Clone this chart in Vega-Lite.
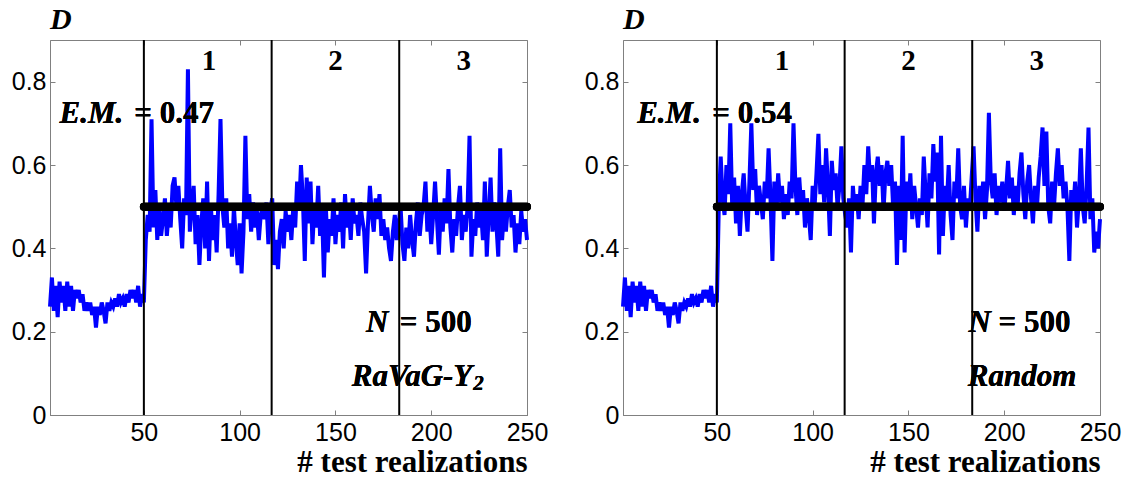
{
"$schema": "https://vega.github.io/schema/vega-lite/v6.json",
"padding": {"left": 10, "top": 4, "right": 5, "bottom": 5},
"spacing": 34,
"background": "white",
"datasets": {
"series": [
{"x":1,"RaVaG":0.26,"Random":0.26},{"x":2,"RaVaG":0.33,"Random":0.33},{"x":3,"RaVaG":0.25,"Random":0.25},{"x":4,"RaVaG":0.31,"Random":0.31},{"x":5,"RaVaG":0.235,"Random":0.235},
{"x":6,"RaVaG":0.32,"Random":0.32},{"x":7,"RaVaG":0.27,"Random":0.27},{"x":8,"RaVaG":0.31,"Random":0.31},{"x":9,"RaVaG":0.25,"Random":0.25},{"x":10,"RaVaG":0.32,"Random":0.32},
{"x":11,"RaVaG":0.26,"Random":0.26},{"x":12,"RaVaG":0.31,"Random":0.31},{"x":13,"RaVaG":0.25,"Random":0.25},{"x":14,"RaVaG":0.30,"Random":0.30},{"x":15,"RaVaG":0.28,"Random":0.28},
{"x":16,"RaVaG":0.30,"Random":0.30},{"x":17,"RaVaG":0.27,"Random":0.27},{"x":18,"RaVaG":0.29,"Random":0.29},{"x":19,"RaVaG":0.25,"Random":0.25},{"x":20,"RaVaG":0.27,"Random":0.27},
{"x":21,"RaVaG":0.25,"Random":0.25},{"x":22,"RaVaG":0.27,"Random":0.27},{"x":23,"RaVaG":0.24,"Random":0.24},{"x":24,"RaVaG":0.26,"Random":0.26},{"x":25,"RaVaG":0.21,"Random":0.21},
{"x":26,"RaVaG":0.26,"Random":0.26},{"x":27,"RaVaG":0.24,"Random":0.24},{"x":28,"RaVaG":0.27,"Random":0.27},{"x":29,"RaVaG":0.25,"Random":0.25},{"x":30,"RaVaG":0.22,"Random":0.22},
{"x":31,"RaVaG":0.27,"Random":0.27},{"x":32,"RaVaG":0.25,"Random":0.25},{"x":33,"RaVaG":0.27,"Random":0.27},{"x":34,"RaVaG":0.26,"Random":0.26},{"x":35,"RaVaG":0.28,"Random":0.28},
{"x":36,"RaVaG":0.26,"Random":0.26},{"x":37,"RaVaG":0.29,"Random":0.29},{"x":38,"RaVaG":0.27,"Random":0.27},{"x":39,"RaVaG":0.28,"Random":0.28},{"x":40,"RaVaG":0.26,"Random":0.26},
{"x":41,"RaVaG":0.29,"Random":0.29},{"x":42,"RaVaG":0.27,"Random":0.27},{"x":43,"RaVaG":0.30,"Random":0.30},{"x":44,"RaVaG":0.28,"Random":0.28},{"x":45,"RaVaG":0.30,"Random":0.30},
{"x":46,"RaVaG":0.27,"Random":0.27},{"x":47,"RaVaG":0.31,"Random":0.31},{"x":48,"RaVaG":0.26,"Random":0.26},{"x":49,"RaVaG":0.29,"Random":0.29},{"x":50,"RaVaG":0.27,"Random":0.27},
{"x":51,"RaVaG":0.42,"Random":0.50},{"x":52,"RaVaG":0.48,"Random":0.62},{"x":53,"RaVaG":0.44,"Random":0.52},{"x":54,"RaVaG":0.71,"Random":0.48},{"x":55,"RaVaG":0.45,"Random":0.60},
{"x":56,"RaVaG":0.54,"Random":0.53},{"x":57,"RaVaG":0.42,"Random":0.70},{"x":58,"RaVaG":0.50,"Random":0.50},{"x":59,"RaVaG":0.43,"Random":0.57},{"x":60,"RaVaG":0.47,"Random":0.46},
{"x":61,"RaVaG":0.52,"Random":0.55},{"x":62,"RaVaG":0.43,"Random":0.43},{"x":63,"RaVaG":0.49,"Random":0.53},{"x":64,"RaVaG":0.45,"Random":0.58},{"x":65,"RaVaG":0.55,"Random":0.50},
{"x":66,"RaVaG":0.57,"Random":0.44},{"x":67,"RaVaG":0.50,"Random":0.56},{"x":68,"RaVaG":0.55,"Random":0.70},{"x":69,"RaVaG":0.47,"Random":0.54},{"x":70,"RaVaG":0.40,"Random":0.59},
{"x":71,"RaVaG":0.52,"Random":0.48},{"x":72,"RaVaG":0.48,"Random":0.55},{"x":73,"RaVaG":0.83,"Random":0.51},{"x":74,"RaVaG":0.44,"Random":0.47},{"x":75,"RaVaG":0.50,"Random":0.56},
{"x":76,"RaVaG":0.55,"Random":0.52},{"x":77,"RaVaG":0.41,"Random":0.64},{"x":78,"RaVaG":0.48,"Random":0.52},{"x":79,"RaVaG":0.36,"Random":0.37},{"x":80,"RaVaG":0.46,"Random":0.56},
{"x":81,"RaVaG":0.52,"Random":0.49},{"x":82,"RaVaG":0.40,"Random":0.58},{"x":83,"RaVaG":0.56,"Random":0.51},{"x":84,"RaVaG":0.37,"Random":0.55},{"x":85,"RaVaG":0.50,"Random":0.47},
{"x":86,"RaVaG":0.42,"Random":0.53},{"x":87,"RaVaG":0.48,"Random":0.48},{"x":88,"RaVaG":0.39,"Random":0.56},{"x":89,"RaVaG":0.53,"Random":0.52},{"x":90,"RaVaG":0.71,"Random":0.70},
{"x":91,"RaVaG":0.50,"Random":0.55},{"x":92,"RaVaG":0.45,"Random":0.48},{"x":93,"RaVaG":0.52,"Random":0.57},{"x":94,"RaVaG":0.40,"Random":0.50},{"x":95,"RaVaG":0.46,"Random":0.54},
{"x":96,"RaVaG":0.38,"Random":0.45},{"x":97,"RaVaG":0.50,"Random":0.52},{"x":98,"RaVaG":0.42,"Random":0.48},{"x":99,"RaVaG":0.36,"Random":0.42},{"x":100,"RaVaG":0.46,"Random":0.55},
{"x":101,"RaVaG":0.34,"Random":0.50},{"x":102,"RaVaG":0.44,"Random":0.58},{"x":103,"RaVaG":0.67,"Random":0.675},{"x":104,"RaVaG":0.47,"Random":0.53},{"x":105,"RaVaG":0.53,"Random":0.60},
{"x":106,"RaVaG":0.44,"Random":0.51},{"x":107,"RaVaG":0.51,"Random":0.64},{"x":108,"RaVaG":0.45,"Random":0.55},{"x":109,"RaVaG":0.49,"Random":0.43},{"x":110,"RaVaG":0.42,"Random":0.61},
{"x":111,"RaVaG":0.48,"Random":0.54},{"x":112,"RaVaG":0.50,"Random":0.58},{"x":113,"RaVaG":0.47,"Random":0.50},{"x":114,"RaVaG":0.51,"Random":0.55},{"x":115,"RaVaG":0.41,"Random":0.645},
{"x":116,"RaVaG":0.49,"Random":0.52},{"x":117,"RaVaG":0.52,"Random":0.48},{"x":118,"RaVaG":0.36,"Random":0.45},{"x":119,"RaVaG":0.42,"Random":0.52},{"x":120,"RaVaG":0.35,"Random":0.39},
{"x":121,"RaVaG":0.44,"Random":0.55},{"x":122,"RaVaG":0.47,"Random":0.49},{"x":123,"RaVaG":0.40,"Random":0.53},{"x":124,"RaVaG":0.49,"Random":0.47},{"x":125,"RaVaG":0.44,"Random":0.55},
{"x":126,"RaVaG":0.48,"Random":0.50},{"x":127,"RaVaG":0.42,"Random":0.60},{"x":128,"RaVaG":0.50,"Random":0.53},{"x":129,"RaVaG":0.45,"Random":0.645},{"x":130,"RaVaG":0.56,"Random":0.56},
{"x":131,"RaVaG":0.49,"Random":0.60},{"x":132,"RaVaG":0.60,"Random":0.46},{"x":133,"RaVaG":0.52,"Random":0.58},{"x":134,"RaVaG":0.37,"Random":0.62},{"x":135,"RaVaG":0.57,"Random":0.55},
{"x":136,"RaVaG":0.46,"Random":0.60},{"x":137,"RaVaG":0.56,"Random":0.49},{"x":138,"RaVaG":0.41,"Random":0.58},{"x":139,"RaVaG":0.50,"Random":0.61},{"x":140,"RaVaG":0.45,"Random":0.55},
{"x":141,"RaVaG":0.55,"Random":0.60},{"x":142,"RaVaG":0.43,"Random":0.50},{"x":143,"RaVaG":0.49,"Random":0.56},{"x":144,"RaVaG":0.33,"Random":0.36},{"x":145,"RaVaG":0.50,"Random":0.55},
{"x":146,"RaVaG":0.39,"Random":0.42},{"x":147,"RaVaG":0.47,"Random":0.67},{"x":148,"RaVaG":0.43,"Random":0.39},{"x":149,"RaVaG":0.52,"Random":0.56},{"x":150,"RaVaG":0.41,"Random":0.50},
{"x":151,"RaVaG":0.48,"Random":0.58},{"x":152,"RaVaG":0.44,"Random":0.47},{"x":153,"RaVaG":0.51,"Random":0.55},{"x":154,"RaVaG":0.40,"Random":0.50},{"x":155,"RaVaG":0.53,"Random":0.45},
{"x":156,"RaVaG":0.45,"Random":0.52},{"x":157,"RaVaG":0.50,"Random":0.48},{"x":158,"RaVaG":0.42,"Random":0.62},{"x":159,"RaVaG":0.52,"Random":0.53},{"x":160,"RaVaG":0.46,"Random":0.45},
{"x":161,"RaVaG":0.48,"Random":0.58},{"x":162,"RaVaG":0.43,"Random":0.52},{"x":163,"RaVaG":0.51,"Random":0.65},{"x":164,"RaVaG":0.47,"Random":0.56},{"x":165,"RaVaG":0.44,"Random":0.63},
{"x":166,"RaVaG":0.34,"Random":0.385},{"x":167,"RaVaG":0.46,"Random":0.67},{"x":168,"RaVaG":0.55,"Random":0.43},{"x":169,"RaVaG":0.48,"Random":0.55},{"x":170,"RaVaG":0.44,"Random":0.50},
{"x":171,"RaVaG":0.52,"Random":0.60},{"x":172,"RaVaG":0.47,"Random":0.48},{"x":173,"RaVaG":0.53,"Random":0.42},{"x":174,"RaVaG":0.43,"Random":0.56},{"x":175,"RaVaG":0.47,"Random":0.52},
{"x":176,"RaVaG":0.42,"Random":0.64},{"x":177,"RaVaG":0.45,"Random":0.50},{"x":178,"RaVaG":0.40,"Random":0.47},{"x":179,"RaVaG":0.37,"Random":0.55},{"x":180,"RaVaG":0.44,"Random":0.45},
{"x":181,"RaVaG":0.48,"Random":0.52},{"x":182,"RaVaG":0.42,"Random":0.49},{"x":183,"RaVaG":0.46,"Random":0.57},{"x":184,"RaVaG":0.50,"Random":0.645},{"x":185,"RaVaG":0.41,"Random":0.52},
{"x":186,"RaVaG":0.37,"Random":0.44},{"x":187,"RaVaG":0.45,"Random":0.55},{"x":188,"RaVaG":0.40,"Random":0.50},{"x":189,"RaVaG":0.48,"Random":0.56},{"x":190,"RaVaG":0.42,"Random":0.47},
{"x":191,"RaVaG":0.38,"Random":0.54},{"x":192,"RaVaG":0.46,"Random":0.725},{"x":193,"RaVaG":0.51,"Random":0.56},{"x":194,"RaVaG":0.43,"Random":0.52},{"x":195,"RaVaG":0.48,"Random":0.58},
{"x":196,"RaVaG":0.50,"Random":0.48},{"x":197,"RaVaG":0.56,"Random":0.55},{"x":198,"RaVaG":0.44,"Random":0.51},{"x":199,"RaVaG":0.49,"Random":0.56},{"x":200,"RaVaG":0.41,"Random":0.49},
{"x":201,"RaVaG":0.48,"Random":0.54},{"x":202,"RaVaG":0.56,"Random":0.61},{"x":203,"RaVaG":0.47,"Random":0.52},{"x":204,"RaVaG":0.385,"Random":0.57},{"x":205,"RaVaG":0.50,"Random":0.48},
{"x":206,"RaVaG":0.44,"Random":0.55},{"x":207,"RaVaG":0.52,"Random":0.50},{"x":208,"RaVaG":0.46,"Random":0.58},{"x":209,"RaVaG":0.59,"Random":0.63},{"x":210,"RaVaG":0.45,"Random":0.53},
{"x":211,"RaVaG":0.39,"Random":0.47},{"x":212,"RaVaG":0.47,"Random":0.56},{"x":213,"RaVaG":0.43,"Random":0.60},{"x":214,"RaVaG":0.50,"Random":0.52},{"x":215,"RaVaG":0.55,"Random":0.46},
{"x":216,"RaVaG":0.42,"Random":0.55},{"x":217,"RaVaG":0.48,"Random":0.49},{"x":218,"RaVaG":0.44,"Random":0.57},{"x":219,"RaVaG":0.50,"Random":0.62},{"x":220,"RaVaG":0.67,"Random":0.69},
{"x":221,"RaVaG":0.38,"Random":0.55},{"x":222,"RaVaG":0.47,"Random":0.68},{"x":223,"RaVaG":0.43,"Random":0.50},{"x":224,"RaVaG":0.51,"Random":0.46},{"x":225,"RaVaG":0.45,"Random":0.56},
{"x":226,"RaVaG":0.49,"Random":0.50},{"x":227,"RaVaG":0.42,"Random":0.58},{"x":228,"RaVaG":0.56,"Random":0.64},{"x":229,"RaVaG":0.38,"Random":0.55},{"x":230,"RaVaG":0.48,"Random":0.60},
{"x":231,"RaVaG":0.57,"Random":0.52},{"x":232,"RaVaG":0.44,"Random":0.56},{"x":233,"RaVaG":0.51,"Random":0.50},{"x":234,"RaVaG":0.46,"Random":0.37},{"x":235,"RaVaG":0.38,"Random":0.54},
{"x":236,"RaVaG":0.64,"Random":0.49},{"x":237,"RaVaG":0.42,"Random":0.56},{"x":238,"RaVaG":0.49,"Random":0.45},{"x":239,"RaVaG":0.44,"Random":0.52},{"x":240,"RaVaG":0.50,"Random":0.64},
{"x":241,"RaVaG":0.54,"Random":0.50},{"x":242,"RaVaG":0.45,"Random":0.46},{"x":243,"RaVaG":0.48,"Random":0.55},{"x":244,"RaVaG":0.39,"Random":0.69},{"x":245,"RaVaG":0.46,"Random":0.47},
{"x":246,"RaVaG":0.41,"Random":0.52},{"x":247,"RaVaG":0.49,"Random":0.39},{"x":248,"RaVaG":0.44,"Random":0.44},{"x":249,"RaVaG":0.47,"Random":0.40},{"x":250,"RaVaG":0.42,"Random":0.47}
],
"dividers": [{"x":50},{"x":116.7},{"x":183.3}],
"regions": [{"x":84,"label":"1"},{"x":150,"label":"2"},{"x":217,"label":"3"}]
},
"config": {
"view": {"stroke": "#808080", "strokeWidth": 1},
"axis": {"grid": false, "domainColor": "#808080", "tickColor": "#808080", "tickSize": -5, "labelFont": "Liberation Sans", "labelFontSize": 25, "labelColor": "black", "labelFlush": false, "titleFont": "Liberation Serif", "titleFontWeight": "bold", "titleFontSize": 31, "titleColor": "black"},
"axisX": {"labelPadding": 10, "titlePadding": 2},
"axisY": {"labelPadding": 9},
"title": {"font": "Liberation Serif", "fontStyle": "italic", "fontWeight": "bold", "fontSize": 30, "color": "black", "anchor": "start", "frame": "group", "offset": 4}
},
"hconcat": [
{
"width": 477, "height": 375,
"title": "D",
"resolve": {"axis": {"x": "independent", "y": "independent"}},
"layer": [
{"data": {"name": "series"}, "mark": {"type": "line", "color": "#0000ff", "strokeWidth": 4},
 "encoding": {
  "x": {"field": "x", "type": "quantitative", "scale": {"domain": [1, 250], "nice": false}, "axis": {"values": [50, 100, 150, 200, 250], "title": "# test realizations", "titleAnchor": "end"}},
  "y": {"field": "RaVaG", "type": "quantitative", "scale": {"domain": [0, 0.9], "nice": false}, "axis": {"values": [0, 0.2, 0.4, 0.6, 0.8], "title": null, "labelExpr": "datum.value == 0 ? '0' : format(datum.value, '.1f')"}}
 }},
{"data": {"name": "dividers"}, "mark": {"type": "rule", "color": "black", "strokeWidth": 2},
 "encoding": {
  "x": {"field": "x", "type": "quantitative", "axis": {"orient": "top", "values": [50, 100, 150, 200, 250], "labels": false, "domain": false, "title": null}},
  "y": {"datum": 0, "type": "quantitative", "axis": {"orient": "right", "values": [0, 0.2, 0.4, 0.6, 0.8], "labels": false, "domain": false, "title": null}},
  "y2": {"datum": 0.9}
 }},
{"data": {"name": "dividers"}, "mark": {"type": "rule", "color": "black", "strokeWidth": 8, "strokeCap": "round"},
 "encoding": {
  "x": {"datum": 50, "type": "quantitative", "axis": null},
  "x2": {"datum": 250},
  "y": {"datum": 0.5, "type": "quantitative", "axis": null}
 }},
{"data": {"name": "regions"}, "mark": {"type": "text", "font": "Liberation Serif", "fontWeight": "bold", "fontSize": 29, "baseline": "middle", "align": "center"},
 "encoding": {
  "x": {"field": "x", "type": "quantitative", "axis": null},
  "y": {"datum": 0.85, "type": "quantitative", "axis": null},
  "text": {"field": "label"}
 }},
{"data": {"name": "regions"}, "mark": {"type": "text", "font": "Liberation Serif", "fontWeight": "bold", "fontStyle": "italic", "fontSize": 31, "align": "left", "baseline": "alphabetic", "text": "E.M."},
 "encoding": {"x": {"datum": 6, "type": "quantitative", "axis": null}, "y": {"datum": 0.70, "type": "quantitative", "axis": null}}},
{"data": {"name": "regions"}, "mark": {"type": "text", "font": "Liberation Serif", "fontWeight": "bold", "fontSize": 31, "align": "left", "baseline": "alphabetic", "text": "= 0.47"},
 "encoding": {"x": {"datum": 45, "type": "quantitative", "axis": null}, "y": {"datum": 0.70, "type": "quantitative", "axis": null}}},
{"data": {"name": "regions"}, "mark": {"type": "text", "font": "Liberation Serif", "fontWeight": "bold", "fontStyle": "italic", "fontSize": 31, "align": "left", "baseline": "alphabetic", "text": "N"},
 "encoding": {"x": {"datum": 166, "type": "quantitative", "axis": null}, "y": {"datum": 0.2, "type": "quantitative", "axis": null}}},
{"data": {"name": "regions"}, "mark": {"type": "text", "font": "Liberation Serif", "fontWeight": "bold", "fontSize": 31, "align": "left", "baseline": "alphabetic", "text": "= 500"},
 "encoding": {"x": {"datum": 183.6, "type": "quantitative", "axis": null}, "y": {"datum": 0.2, "type": "quantitative", "axis": null}}},
{"data": {"name": "regions"}, "mark": {"type": "text", "font": "Liberation Serif", "fontWeight": "bold", "fontStyle": "italic", "fontSize": 31, "align": "left", "baseline": "alphabetic", "text": "RaVaG-Y"},
 "encoding": {"x": {"datum": 158.5, "type": "quantitative", "axis": null}, "y": {"datum": 0.069, "type": "quantitative", "axis": null}}},
{"data": {"name": "regions"}, "mark": {"type": "text", "font": "Liberation Serif", "fontWeight": "bold", "fontStyle": "italic", "fontSize": 21, "align": "left", "baseline": "alphabetic", "dy": 4, "text": "2"},
 "encoding": {"x": {"datum": 222, "type": "quantitative", "axis": null}, "y": {"datum": 0.069, "type": "quantitative", "axis": null}}}
]
},
{
"width": 477, "height": 375,
"title": "D",
"resolve": {"axis": {"x": "independent", "y": "independent"}},
"layer": [
{"data": {"name": "series"}, "mark": {"type": "line", "color": "#0000ff", "strokeWidth": 4},
 "encoding": {
  "x": {"field": "x", "type": "quantitative", "scale": {"domain": [1, 250], "nice": false}, "axis": {"values": [50, 100, 150, 200, 250], "title": "# test realizations", "titleAnchor": "end"}},
  "y": {"field": "Random", "type": "quantitative", "scale": {"domain": [0, 0.9], "nice": false}, "axis": {"values": [0, 0.2, 0.4, 0.6, 0.8], "title": null, "labelExpr": "datum.value == 0 ? '0' : format(datum.value, '.1f')"}}
 }},
{"data": {"name": "dividers"}, "mark": {"type": "rule", "color": "black", "strokeWidth": 2},
 "encoding": {
  "x": {"field": "x", "type": "quantitative", "axis": {"orient": "top", "values": [50, 100, 150, 200, 250], "labels": false, "domain": false, "title": null}},
  "y": {"datum": 0, "type": "quantitative", "axis": {"orient": "right", "values": [0, 0.2, 0.4, 0.6, 0.8], "labels": false, "domain": false, "title": null}},
  "y2": {"datum": 0.9}
 }},
{"data": {"name": "dividers"}, "mark": {"type": "rule", "color": "black", "strokeWidth": 8, "strokeCap": "round"},
 "encoding": {
  "x": {"datum": 50, "type": "quantitative", "axis": null},
  "x2": {"datum": 250},
  "y": {"datum": 0.5, "type": "quantitative", "axis": null}
 }},
{"data": {"name": "regions"}, "mark": {"type": "text", "font": "Liberation Serif", "fontWeight": "bold", "fontSize": 29, "baseline": "middle", "align": "center"},
 "encoding": {
  "x": {"field": "x", "type": "quantitative", "axis": null},
  "y": {"datum": 0.85, "type": "quantitative", "axis": null},
  "text": {"field": "label"}
 }},
{"data": {"name": "regions"}, "mark": {"type": "text", "font": "Liberation Serif", "fontWeight": "bold", "fontStyle": "italic", "fontSize": 31, "align": "left", "baseline": "alphabetic", "text": "E.M."},
 "encoding": {"x": {"datum": 8.4, "type": "quantitative", "axis": null}, "y": {"datum": 0.70, "type": "quantitative", "axis": null}}},
{"data": {"name": "regions"}, "mark": {"type": "text", "font": "Liberation Serif", "fontWeight": "bold", "fontSize": 31, "align": "left", "baseline": "alphabetic", "text": "= 0.54"},
 "encoding": {"x": {"datum": 47.6, "type": "quantitative", "axis": null}, "y": {"datum": 0.70, "type": "quantitative", "axis": null}}},
{"data": {"name": "regions"}, "mark": {"type": "text", "font": "Liberation Serif", "fontWeight": "bold", "fontStyle": "italic", "fontSize": 31, "align": "left", "baseline": "alphabetic", "text": "N"},
 "encoding": {"x": {"datum": 181.4, "type": "quantitative", "axis": null}, "y": {"datum": 0.2, "type": "quantitative", "axis": null}}},
{"data": {"name": "regions"}, "mark": {"type": "text", "font": "Liberation Serif", "fontWeight": "bold", "fontSize": 31, "align": "left", "baseline": "alphabetic", "text": "= 500"},
 "encoding": {"x": {"datum": 197, "type": "quantitative", "axis": null}, "y": {"datum": 0.2, "type": "quantitative", "axis": null}}},
{"data": {"name": "regions"}, "mark": {"type": "text", "font": "Liberation Serif", "fontWeight": "bold", "fontStyle": "italic", "fontSize": 31, "align": "left", "baseline": "alphabetic", "text": "Random"},
 "encoding": {"x": {"datum": 181, "type": "quantitative", "axis": null}, "y": {"datum": 0.069, "type": "quantitative", "axis": null}}}
]
}
]
}
